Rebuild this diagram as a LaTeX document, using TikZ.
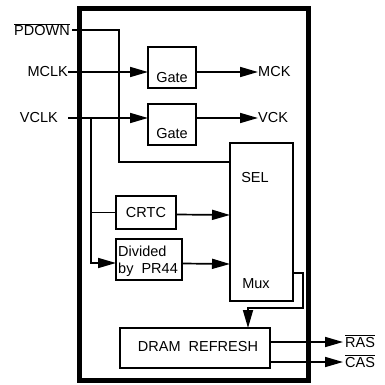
\documentclass[tikz,border=0pt]{standalone}
\usepackage{fontspec}
\setmainfont{Liberation Sans}
\usetikzlibrary{arrows.meta}
\begin{document}
\begin{tikzpicture}[x=1pt,y=-1pt,
  font=\fontsize{14.5}{17}\selectfont,
  box/.style={draw, line width=1.7pt, inner sep=0pt, outer sep=0pt, anchor=north west},
  wire/.style={line width=1.7pt},
  arr/.style={wire, -{Triangle[length=18pt,width=10pt]}},
  lbl/.style={inner sep=0pt}]
\useasboundingbox (0,0) rectangle (385,385);
% outer chip box
\node[draw, line width=5pt, inner sep=0pt, minimum width=229pt, minimum height=371pt] (chip) at (193.5,194.5) {};
% blocks
\node[box, minimum width=48pt, minimum height=41pt] (g1) at (148,47) {};
\node[lbl] (g1t) at (172,78) {Gate};
\node[box, minimum width=48pt, minimum height=41pt] (g2) at (148,104) {};
\node[lbl] (g2t) at (172,134) {Gate};
\node[box, minimum width=63pt, minimum height=158pt] (sel) at (230,143) {};
\node[lbl] (selt) at (255,178) {SEL};
\node[lbl] (muxt) at (256,284) {Mux};
\node[box, minimum width=60pt, minimum height=33pt] (crtc) at (116,196) {};
\node[lbl] (crtct) at (crtc.center) {CRTC};
\node[box, minimum width=66pt, minimum height=41pt] (div) at (116,239) {};
\node[lbl, align=left, anchor=west] (divt) at (118,261) {Divided\\by\ \ PR44};
\node[box, minimum width=150pt, minimum height=40pt] (dram) at (120,328) {};
\node[lbl] (dramt) at (198,347) {DRAM\ \ REFRESH};
% external labels
\node[lbl, anchor=base east] (pd) at (70,36) {$\overline{\hbox{PDOWN}}$};
\node[lbl, anchor=east] (mclk) at (68,72) {MCLK};
\node[lbl, anchor=east] (vclk) at (58,118) {VCLK};
\node[lbl, anchor=west] (mck) at (258,72) {MCK};
\node[lbl, anchor=west] (vck) at (258,118) {VCK};
\node[lbl, anchor=base west] (ras) at (345,347) {$\overline{\hbox{RAS}}$};
\node[lbl, anchor=base west] (cas) at (345,367) {$\overline{\hbox{CAS}}$};
% coordinates
\coordinate (pdin) at (72,30);
\coordinate (vin) at (68,118);
\coordinate (vj) at (91,118);
\coordinate (muxout) at (293,273);
\coordinate (rasend) at (343,342);
\coordinate (casend) at (343,362);
% wires
\draw[wire] (pdin) -- (119,30) -- (119,162) -- (sel.west |- 0,162);
\draw[arr] (mclk.east) -- (g1.west |- mclk.east);
\draw[arr] (vin) -- (g2.west |- vin);
\draw[arr] (g1.east |- mclk.east) -- (mck.west);
\draw[arr] (g2.east |- vin) -- (vck.west);
\draw[arr] (vj) |- ([yshift=-3.5pt]div.west);
\draw[wire] (vj |- crtc.west) -- (crtc.west);
\draw[arr] ([yshift=-2pt]crtc.east) -- (sel.west |- 0,215);
\draw[arr] ([yshift=-4pt]div.east) -- (sel.west |- 0,264);
\draw[arr] (muxout) -- ++(10,0) -- ++(0,35) -| ([xshift=53pt]dram.north);
\draw[arr] (dram.east |- rasend) -- (rasend);
\draw[arr] (dram.east |- casend) -- (casend);
\end{tikzpicture}
\end{document}
